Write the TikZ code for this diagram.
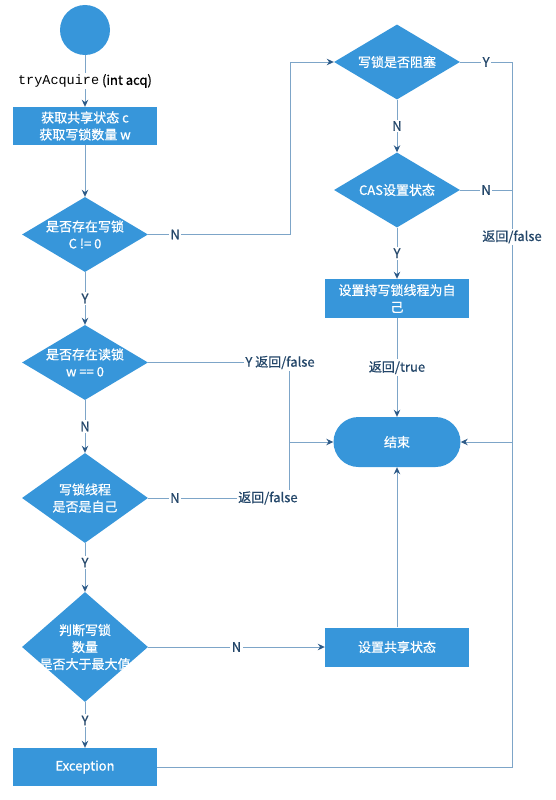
\documentclass[tikz,border=0pt]{standalone}
\usepackage{fontspec}
\usepackage{tikz}
\usetikzlibrary{shapes.geometric, arrows.meta}
\newfontfamily\cjk[FakeBold=0.7]{Noto Sans CJK SC}
\newfontfamily\codefont{Liberation Mono}
\definecolor{flowblue}{RGB}{55,150,218}
\definecolor{linecol}{RGB}{125,165,200}
\definecolor{tipcol}{RGB}{45,90,135}
\definecolor{labelcol}{RGB}{35,70,105}
\newcommand{\flowfont}{\cjk\fontsize{13}{17}\selectfont}
\tikzstyle{startnode} = [circle, minimum size=50pt, fill=flowblue]
\tikzstyle{process} = [rectangle, minimum width=144pt, minimum height=38pt, text centered, fill=flowblue, text=white, font=\flowfont, align=center]
\tikzstyle{decision} = [diamond, minimum width=126pt, minimum height=75pt, inner sep=0pt, fill=flowblue]
\tikzstyle{dtext} = [text=white, font=\flowfont, align=center]
\tikzstyle{terminal} = [rectangle, rounded corners=25pt, minimum width=127pt, minimum height=50pt, fill=flowblue, text=white, font=\flowfont]
\tikzstyle{wire} = [draw=linecol, line width=0.9pt]
\tikzstyle{arrow} = [wire, -{Stealth[length=7pt, width=6.5pt, color=tipcol]}]
\tikzstyle{lbl} = [fill=white, text=labelcol, font=\flowfont, inner sep=1.5pt]

\begin{document}
\begin{tikzpicture}[x=1pt, y=-1pt, node distance=120pt]
\useasboundingbox (0,0) rectangle (555,800);

% left column
\node (start) [startnode] at (85,30) {};
\node (getState) [process, below of=start, yshift=24pt] {获取共享状态 c\\获取写锁数量 w};
\node (hasWrite) [decision, below of=getState, yshift=11.5pt, label={[dtext]center:是否存在写锁\\C != 0}] {};
\node (hasRead) [decision, below of=hasWrite, yshift=-8pt, label={[dtext]center:是否存在读锁\\w == 0}] {};
\node (isSelf) [decision, below of=hasRead, yshift=-15.5pt, minimum height=90pt, label={[dtext]center:写锁线程\\是否是自己}] {};
\node (overMax) [decision, below of=isSelf, yshift=-29pt, minimum height=110pt, label={[dtext]center:判断写锁\\数量\\是否大于最大值}] {};
\node (exception) [process, below of=overMax] {Exception};

% right column
\node (isBlocked) [decision, label={[dtext]center:写锁是否阻塞}] at (397,62) {};
\node (casSet) [decision, below of=isBlocked, yshift=-8pt, label={[dtext]center:CAS设置状态}] {};
\node (setOwner) [process, below of=casSet, yshift=11.5pt, minimum height=39pt] {设置持写锁线程为自\\己};
\node (finish) [terminal, below of=setOwner, yshift=-23.5pt] {结束};
\node (setShared) [process, right of=overMax, xshift=192pt, minimum height=39pt] {设置共享状态};

% bends of the long connectors
\coordinate (turnN) at (290,234.5);
\coordinate (leftTop) at (289,362.5);
\coordinate (leftMid) at (289,442);
\coordinate (leftBot) at (289,498);
\coordinate (busTop) at (512,62);
\coordinate (busEnd) at (512,442);

\draw [arrow] (start) -- node[lbl, text=black]{{\codefont\fontsize{13.5}{17}\selectfont tryAcquire} (int acq)} (getState);
\draw [arrow] (getState) -- (hasWrite);
\draw [arrow] (hasWrite) -- node[lbl]{Y} (hasRead);
\draw [arrow] (hasRead) -- node[lbl]{N} (isSelf);
\draw [arrow] (isSelf) -- node[lbl, pos=0.4]{Y} (overMax);
\draw [arrow] (overMax) -- node[lbl, pos=0.4]{Y} (exception);
\draw [arrow] (overMax) -- node[lbl]{N} (setShared);
\draw [arrow] (hasWrite.east) -- node[lbl, pos=0.19]{N} (turnN) |- (isBlocked.west);

\draw [arrow] (isBlocked) -- node[lbl]{N} (casSet);
\draw [arrow] (casSet) -- node[lbl]{Y} (setOwner);
\draw [arrow] (setOwner) -- node[lbl]{返回/true} (finish);
\draw [arrow] (setShared) -- (finish);
\draw [wire] (isBlocked.east) -- node[lbl]{Y} (busTop) -- node[lbl, pos=0.46]{返回/false} (busEnd);
\draw [wire] (casSet.east) -- node[lbl]{N} (casSet.east -| busTop);
\draw [arrow] (exception.east) -| (busEnd) -- (finish.east);

\draw [wire] (leftTop) -- (leftBot);
\draw [arrow] (leftMid) -- (finish.west);
\draw [wire] (hasRead.east) -- (leftTop) node[lbl, xshift=-9pt]{Y 返回/false};
\draw [wire] (isSelf.east) -- node[lbl, pos=0.19]{N} node[lbl, pos=0.85]{返回/false} (leftBot);

\end{tikzpicture}
\end{document}
